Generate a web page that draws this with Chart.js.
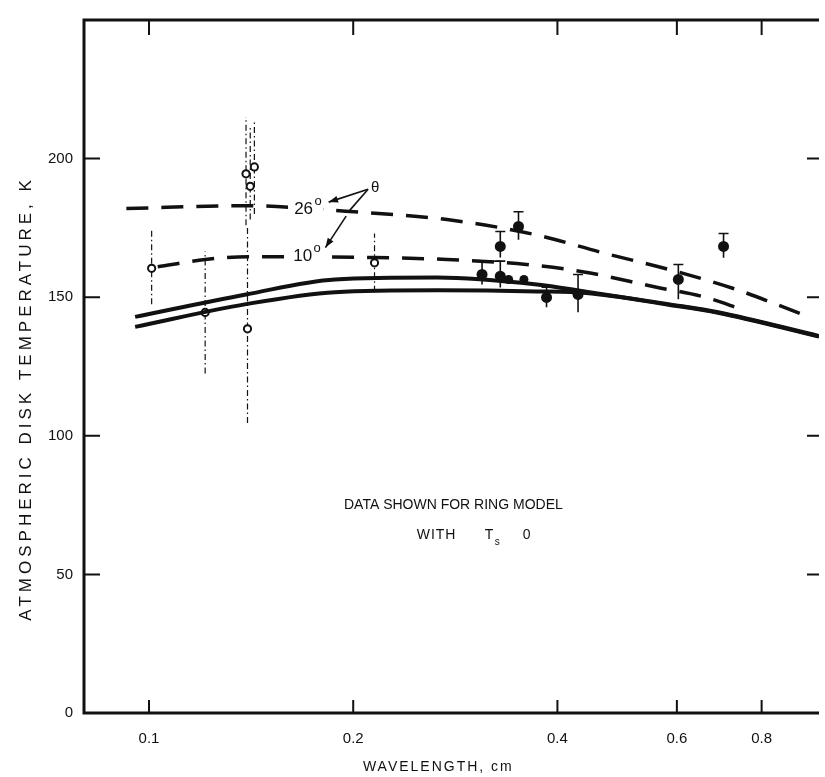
<!DOCTYPE html>
<html>
<head>
<meta charset="utf-8">
<script src="https://cdn.jsdelivr.net/npm/chart.js@4.4.1/dist/chart.umd.min.js"></script>
<style>
  html, body { margin: 0; padding: 0; background: #fff; }
  canvas { display: block; }
</style>
</head>
<body>
<canvas id="chart" width="825" height="777"></canvas>
<script>
// ---- data ----
const xTicks = [0.1, 0.2, 0.4, 0.6, 0.8];
const yTicks = [0, 50, 100, 150, 200];

// model curves (wavelength cm, temperature K)
const curve26X = [0.0926, 0.139, 0.195, 0.275, 0.372, 0.467, 0.584, 0.730, 0.914];
const curve26Y = [182, 183, 181, 178, 172.5, 166, 160, 153, 144];
const curve10X = [0.103, 0.121, 0.14, 0.215, 0.275, 0.36, 0.44, 0.56, 0.66, 0.75];
const curve10Y = [161, 163.6, 164.6, 164.3, 163.6, 161.8, 159, 153.6, 150, 145.5];
const solidUpX = [0.0954, 0.139, 0.188, 0.266, 0.373, 0.441, 0.583, 0.69, 0.972];
const solidUpY = [142.9, 151, 156.4, 157.1, 154.6, 152, 147.5, 144.6, 136];
const solidLoX = [0.0954, 0.139, 0.188, 0.266, 0.373, 0.441, 0.583, 0.69, 0.972];
const solidLoY = [139.3, 147.5, 151.8, 152.5, 152.1, 151.5, 147.3, 144.4, 135.8];

// open-circle measurements with error ranges
const openX  = [0.1009, 0.121, 0.139, 0.143, 0.141, 0.1397, 0.215];
const openY  = [160.4, 144.5, 194.5, 197, 190, 138.6, 162.4];
const openLo = [147.5, 122.5, 176, 180, 178, 104.6, 152];
const openHi = [174, 166.5, 215, 213, 212, 176, 173];

// filled measurements with error ranges (null = no bar)
const fillX  = [0.3097, 0.3295, 0.3295, 0.339, 0.357, 0.3505, 0.3855, 0.429, 0.603, 0.703];
const fillY  = [158.2, 157.6, 168.3, 156.4, 156.4, 175.5, 149.9, 151, 156.4, 168.3];
const fillLo = [154.6, 153.5, 164.3, null, null, 170.7, 146.4, 144.6, 149.3, 164.2];
const fillHi = [163, 163, 173.7, null, null, 180.8, 153.6, 158.2, 161.8, 173];
const fillR  = [5.5, 5.5, 5.5, 4.5, 4.5, 5.5, 5.5, 5.5, 5.5, 5.5];

const zip = (xs, ys) => xs.map((x, i) => ({ x, y: ys[i] }));
const INK = '#111';
const FONT = '"Liberation Sans", Arial, sans-serif';

// ---- frame, ticks, error bars, annotations ----
const figurePlugin = {
  id: 'figure',
  beforeDatasetsDraw(chart) {
    const { ctx, scales: { x, y } } = chart;
    ctx.save();
    ctx.strokeStyle = INK;

    // error bars, dash-dot for the open circles
    ctx.lineWidth = 1.2;
    ctx.setLineDash([6, 3, 1.5, 3]);
    openX.forEach((v, i) => {
      const px = x.getPixelForValue(v);
      ctx.beginPath();
      ctx.moveTo(px, y.getPixelForValue(openLo[i]));
      ctx.lineTo(px, y.getPixelForValue(openHi[i]));
      ctx.stroke();
    });
    // error bars for the filled points
    ctx.setLineDash([]);
    ctx.lineWidth = 1.6;
    fillX.forEach((v, i) => {
      if (fillLo[i] == null) return;
      const px = x.getPixelForValue(v);
      const hi = y.getPixelForValue(fillHi[i]);
      ctx.beginPath();
      ctx.moveTo(px, y.getPixelForValue(fillLo[i]));
      ctx.lineTo(px, hi);
      ctx.moveTo(px - 5, hi);
      ctx.lineTo(px + 5, hi);
      ctx.stroke();
    });
    // bracket joining the first two filled points
    ctx.beginPath();
    ctx.moveTo(x.getPixelForValue(fillX[0]), y.getPixelForValue(fillHi[0]));
    ctx.lineTo(x.getPixelForValue(fillX[1]), y.getPixelForValue(fillHi[1]));
    ctx.stroke();
    ctx.restore();
  },
  afterDatasetsDraw(chart) {
    const { ctx, chartArea: a, scales: { x, y } } = chart;
    ctx.save();
    ctx.strokeStyle = INK;
    ctx.fillStyle = INK;

    // frame
    ctx.lineWidth = 3;
    ctx.beginPath();
    ctx.moveTo(a.right, a.top);
    ctx.lineTo(a.left, a.top);
    ctx.lineTo(a.left, a.bottom);
    ctx.lineTo(a.right, a.bottom);
    ctx.stroke();

    // inward ticks
    ctx.lineWidth = 2;
    xTicks.forEach(v => {
      const px = x.getPixelForValue(v);
      ctx.beginPath();
      ctx.moveTo(px, a.top); ctx.lineTo(px, a.top + 15);
      ctx.moveTo(px, a.bottom); ctx.lineTo(px, a.bottom - 13);
      ctx.stroke();
    });
    yTicks.slice(1).forEach(v => {
      const py = y.getPixelForValue(v);
      ctx.beginPath();
      ctx.moveTo(a.left, py); ctx.lineTo(a.left + 16, py);
      ctx.moveTo(a.right, py); ctx.lineTo(a.right - 12, py);
      ctx.stroke();
    });

    // curve labels with a white gap in the dashes
    const label = (txt, xv, yv) => {
      const px = x.getPixelForValue(xv), py = y.getPixelForValue(yv);
      ctx.font = `17px ${FONT}`;
      const w = ctx.measureText(txt).width;
      ctx.fillStyle = '#fff';
      ctx.fillRect(px - w / 2 - 6, py - 10, w + 16, 20);
      ctx.fillStyle = INK;
      ctx.textAlign = 'center';
      ctx.textBaseline = 'middle';
      ctx.fillText(txt, px, py + 1);
      ctx.font = `13px ${FONT}`;
      ctx.fillText('o', px + w / 2 + 5, py - 7);
    };
    label('26', 0.1690, 182);
    label('10', 0.1685, 165.2);

    // theta annotation with arrows
    const P = (xv, yv) => [x.getPixelForValue(xv), y.getPixelForValue(yv)];
    const arrow = (from, to) => {
      ctx.beginPath();
      ctx.moveTo(from[0], from[1]);
      ctx.lineTo(to[0], to[1]);
      ctx.stroke();
      const ang = Math.atan2(to[1] - from[1], to[0] - from[0]);
      ctx.beginPath();
      ctx.moveTo(to[0], to[1]);
      ctx.lineTo(to[0] - 10 * Math.cos(ang - 0.35), to[1] - 10 * Math.sin(ang - 0.35));
      ctx.lineTo(to[0] - 10 * Math.cos(ang + 0.35), to[1] - 10 * Math.sin(ang + 0.35));
      ctx.closePath();
      ctx.fill();
    };
    ctx.lineWidth = 1.6;
    const th = P(0.2154, 189.3);
    ctx.font = `15px ${FONT}`;
    ctx.textAlign = 'center';
    ctx.textBaseline = 'middle';
    ctx.fillText('θ', th[0], th[1]);
    const start = [th[0] - 7, th[1] + 1];
    arrow(start, P(0.184, 184.3));
    ctx.beginPath();
    ctx.moveTo(start[0], start[1]);
    const knee = P(0.1966, 180.7);
    ctx.lineTo(knee[0], knee[1]);
    ctx.stroke();
    arrow([knee[0] - 2, knee[1] + 4], P(0.182, 167.9));

    // note in the plot
    ctx.font = `14px ${FONT}`;
    ctx.letterSpacing = '0px';
    ctx.textAlign = 'center';
    const n1 = P(0.281, 75);
    ctx.fillText('DATA SHOWN FOR RING MODEL', n1[0], n1[1]);
    const n2 = P(0.30, 64.3);
    ctx.letterSpacing = '1px';
    ctx.textAlign = 'left';
    ctx.fillText('WITH', n2[0] - 56, n2[1]);
    ctx.fillText('T', n2[0] + 12, n2[1]);
    ctx.font = `10px ${FONT}`;
    ctx.fillText('s', n2[0] + 22, n2[1] + 7);
    ctx.font = `14px ${FONT}`;
    ctx.fillText('0', n2[0] + 50, n2[1]);
    ctx.letterSpacing = '0px';

    // axis titles
    ctx.font = `14px ${FONT}`;
    ctx.letterSpacing = '2px';
    ctx.textAlign = 'center';
    ctx.fillText('WAVELENGTH, cm', x.getPixelForValue(0.267), a.bottom + 54);
    ctx.save();
    ctx.translate(26, y.getPixelForValue(113.5));
    ctx.rotate(-Math.PI / 2);
    ctx.letterSpacing = '4px';
    ctx.font = `17px ${FONT}`;
    ctx.fillText('ATMOSPHERIC DISK TEMPERATURE, K', 0, 0);
    ctx.restore();
    ctx.restore();
  }
};

new Chart(document.getElementById('chart'), {
  type: 'line',
  data: {
    datasets: [
      { data: zip(curve26X, curve26Y), borderColor: INK, borderWidth: 3.5, borderDash: [22, 13],
        pointRadius: 0, cubicInterpolationMode: 'monotone' },
      { data: zip(curve10X, curve10Y), borderColor: INK, borderWidth: 3.5, borderDash: [22, 13],
        pointRadius: 0, cubicInterpolationMode: 'monotone' },
      { data: zip(solidUpX, solidUpY), borderColor: INK, borderWidth: 4,
        pointRadius: 0, cubicInterpolationMode: 'monotone' },
      { data: zip(solidLoX, solidLoY), borderColor: INK, borderWidth: 4,
        pointRadius: 0, cubicInterpolationMode: 'monotone' },
      { type: 'scatter', data: zip(openX, openY), showLine: false, pointRadius: 3.6,
        pointBorderWidth: 2, pointBackgroundColor: '#fff', pointBorderColor: INK },
      { type: 'scatter', data: zip(fillX, fillY), showLine: false, pointRadius: fillR,
        pointBorderWidth: 0, pointBackgroundColor: INK, pointBorderColor: INK }
    ]
  },
  options: {
    responsive: false,
    animation: false,
    devicePixelRatio: 1,
    layout: { padding: { top: 13, right: 0, left: 0, bottom: 0 } },
    plugins: { legend: { display: false }, tooltip: { enabled: false } },
    scales: {
      x: {
        type: 'logarithmic', min: 0.0802, max: 0.972,
        afterBuildTicks: s => { s.ticks = xTicks.map(v => ({ value: v })); },
        afterFit: s => { s.height = 64; },
        grid: { display: false, drawTicks: false },
        border: { display: false },
        ticks: { autoSkip: false, maxRotation: 0, padding: 17, color: INK,
                 font: { family: FONT, size: 15 }, callback: v => String(v) }
      },
      y: {
        min: 0, max: 250,
        afterBuildTicks: s => { s.ticks = yTicks.map(v => ({ value: v })); },
        afterFit: s => { s.width = 84; },
        grid: { display: false, drawTicks: false },
        border: { display: false },
        ticks: { padding: 11, color: INK, font: { family: FONT, size: 15 } }
      }
    }
  },
  plugins: [figurePlugin]
});
</script>
</body>
</html>
